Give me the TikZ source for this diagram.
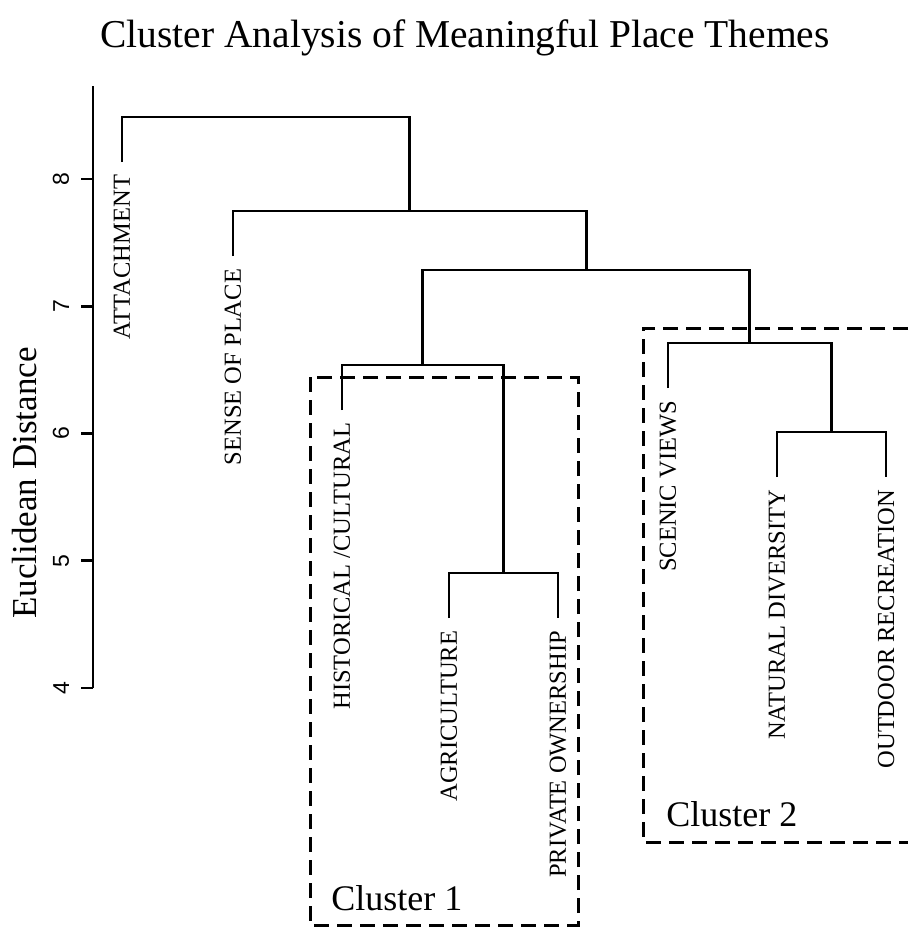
\documentclass[tikz,border=0pt]{standalone}
\usepackage{fontspec}
\setmainfont{Liberation Serif}
\newfontfamily\ticksans{Liberation Sans}

\begin{document}
\begin{tikzpicture}
[x=1pt,y=-1pt,line width=2.9pt,
 leaf/.style={rotate=90,anchor=east,inner sep=0pt,outer xsep=13pt,font=\fontsize{24.5}{24.5}\selectfont},
 ticklab/.style={rotate=90,anchor=south,inner sep=0pt,outer ysep=12pt,font=\ticksans\fontsize{23}{23}\selectfont},
 clusterbox/.style={dash pattern=on 15pt off 8pt,line width=3pt},
 clusterlab/.style={anchor=base west,inner sep=0pt,font=\fontsize{36}{36}\selectfont}]
\useasboundingbox (0,0) rectangle (908,929);
\node[anchor=base,font=\fontsize{39.5}{39.5}\selectfont] (title) at (465,47) {Cluster Analysis of Meaningful Place Themes};
\node[rotate=90,font=\fontsize{35}{35}\selectfont] (ytitle) at (25,483) {Euclidean Distance};
\draw (93,86) -- (93,688);
\foreach \v in {4,...,8}
  \draw (93,{179+(8-\v)*127.25}) -- ++(-12,0) node[ticklab] (t\v) {\v};
\draw[clusterbox] (310,377) rectangle (578,925);
\draw[clusterbox] (908,328) -| (643,842) -- (908,842);
\node[clusterlab] (c1lab) at (330,910) {Cluster 1};
\node[clusterlab] (c2lab) at (665,826) {Cluster 2};
\node[leaf] (attach) at (122,162) {ATTACHMENT};
\node[leaf] (sense) at (233,256) {SENSE OF PLACE};
\node[leaf] (hist) at (342,410) {HISTORICAL /CULTURAL};
\node[leaf] (agri) at (449,618) {AGRICULTURE};
\node[leaf] (priv) at (558,618) {PRIVATE OWNERSHIP};
\node[leaf] (scenic) at (668,388) {SCENIC VIEWS};
\node[leaf] (natd) at (777,477) {NATURAL DIVERSITY};
\node[leaf] (outd) at (886,477) {OUTDOOR RECREATION};
\coordinate (mAP) at (503.5,573);
\coordinate (mNO) at (831.5,432);
\coordinate (mC1) at (422.75,365);
\coordinate (mC2) at (749.75,343);
\coordinate (mC12) at (586.25,270);
\coordinate (mSP) at (409.6,211);
\coordinate (root) at (265.8,117);
\draw (agri.east) |- (mAP) -| (priv.east);
\draw (hist.east) |- (mC1) -| (mAP);
\draw (natd.east) |- (mNO) -| (outd.east);
\draw (scenic.east) |- (mC2) -| (mNO);
\draw (mC1) |- (mC12) -| (mC2);
\draw (sense.east) |- (mSP) -| (mC12);
\draw (attach.east) |- (root) -| (mSP);
\end{tikzpicture}
\end{document}
